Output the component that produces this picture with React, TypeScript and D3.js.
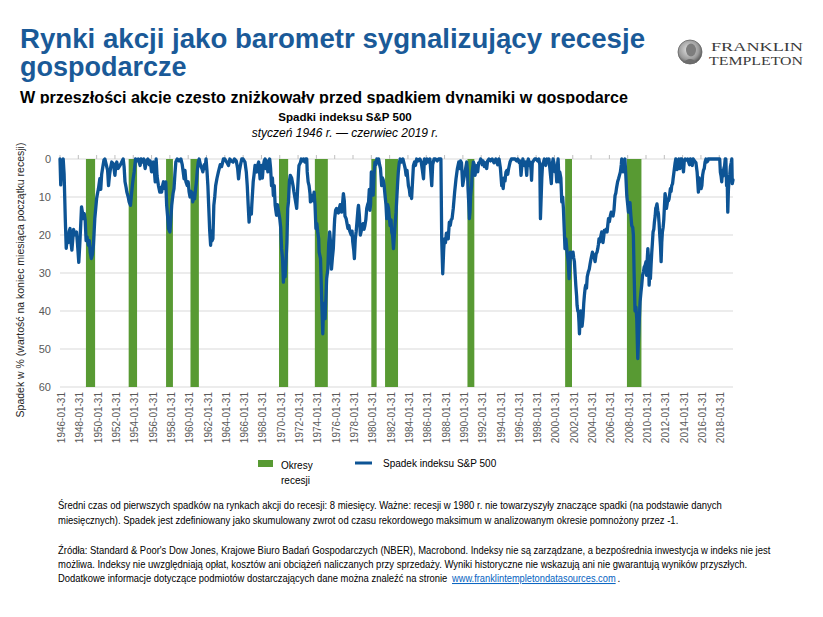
import React, { useLayoutEffect, useRef, useState } from "react"
import * as d3 from "d3"

const W = 823
const H = 617
const FONT = "'Liberation Sans', Arial, Helvetica, sans-serif"
const SERIF = "'Liberation Serif', 'Times New Roman', serif"

const BLUE = "#0d5495"
const GREEN = "#589a33"
const GREY_TEXT = "#595959"

// y axis: drawdown in %, 0 at the top
const yTicks = [0, 10, 20, 30, 40, 50, 60]
// category labels every second January
const tickYears = d3.range(1946, 2019, 2)

// NBER recessions, [first month, last month]
const recessions: [string, string][] = [
	["1948-11", "1949-10"],
	["1953-07", "1954-05"],
	["1957-08", "1958-04"],
	["1960-04", "1961-02"],
	["1969-12", "1970-11"],
	["1973-11", "1975-03"],
	["1980-01", "1980-07"],
	["1981-07", "1982-11"],
	["1990-07", "1991-03"],
	["2001-03", "2001-11"],
	["2007-12", "2009-06"],
]

// S&P 500 drawdown from running peak, [decimal year, % below peak]
const sp500Drawdown: [number, number][] = [
	[1946.0, 0], [1946.08, 6.8], [1946.2, 1], [1946.35, 0], [1946.45, 4], [1946.58, 16], [1946.68, 23.5],
	[1946.8, 20], [1946.9, 22], [1947.0, 19], [1947.1, 18.3], [1947.2, 22], [1947.3, 24], [1947.4, 21],
	[1947.48, 18.5], [1947.6, 20], [1947.7, 19.5], [1947.8, 19.2], [1947.9, 22], [1948.05, 27.2],
	[1948.15, 23], [1948.25, 18], [1948.35, 12.6], [1948.45, 14], [1948.55, 15.7], [1948.65, 14.4],
	[1948.75, 16], [1948.85, 21.5], [1948.95, 20.5], [1949.1, 22.7], [1949.2, 21.5], [1949.3, 24.5],
	[1949.42, 26.2], [1949.55, 25], [1949.65, 22.7], [1949.8, 15.7], [1949.92, 12.5], [1950.0, 10.4],
	[1950.1, 9], [1950.2, 7.8], [1950.35, 5.2], [1950.45, 8], [1950.55, 4], [1950.7, 1.7], [1950.8, 0.3],
	[1950.9, 0], [1951.05, 1.5], [1951.2, 3], [1951.3, 7], [1951.42, 4], [1951.55, 2], [1951.65, 0.8],
	[1951.8, 1.2], [1951.9, 2.5], [1952.0, 4.3], [1952.1, 1.5], [1952.2, 0.8], [1952.35, 2.5],
	[1952.55, 1.7], [1952.7, 1], [1952.9, 0], [1953.0, 2], [1953.1, 6], [1953.22, 7.5], [1953.3, 8.7],
	[1953.45, 10], [1953.55, 11.3], [1953.7, 12.2], [1953.8, 9.5], [1953.9, 7], [1954.0, 5],
	[1954.1, 3.4], [1954.25, 0], [1954.4, 0.5], [1954.55, 0], [1954.75, 1.7], [1954.85, 0],
	[1955.0, 0.8], [1955.15, 0], [1955.3, 2.5], [1955.45, 0.5], [1955.6, 0], [1955.75, 1.5],
	[1955.85, 0.5], [1956.0, 3.4], [1956.1, 1.5], [1956.2, 0.8], [1956.3, 3], [1956.4, 6], [1956.5, 0],
	[1956.6, 4.5], [1956.75, 7], [1956.9, 8.7], [1957.0, 7.5], [1957.1, 8.7], [1957.2, 7], [1957.3, 6],
	[1957.45, 7.8], [1957.55, 6], [1957.65, 12.2], [1957.75, 15], [1957.85, 18.3], [1958.0, 19.2],
	[1958.1, 16], [1958.2, 12.2], [1958.35, 9], [1958.45, 7.8], [1958.55, 4], [1958.65, 0.8],
	[1958.8, 0], [1959.0, 0.5], [1959.2, 0], [1959.35, 1.5], [1959.55, 5.2], [1959.65, 3], [1959.75, 6],
	[1959.9, 7], [1960.0, 6], [1960.1, 8.7], [1960.2, 10], [1960.3, 8.5], [1960.42, 9], [1960.5, 11.3],
	[1960.6, 9], [1960.7, 10.5], [1960.8, 8], [1960.9, 6], [1961.0, 3], [1961.1, 0.8], [1961.2, 0],
	[1961.35, 1.7], [1961.5, 2.5], [1961.6, 3.4], [1961.75, 1.5], [1961.85, 2.5], [1961.95, 0],
	[1962.05, 3], [1962.15, 7], [1962.25, 13], [1962.35, 19], [1962.45, 22.7], [1962.52, 19],
	[1962.6, 21.5], [1962.7, 21], [1962.8, 12.2], [1962.9, 10], [1963.0, 7], [1963.15, 5], [1963.3, 3.4],
	[1963.5, 1.5], [1963.65, 2], [1963.85, 0], [1964.0, 0], [1964.2, 0.8], [1964.4, 1.7], [1964.55, 0],
	[1964.7, 0.5], [1964.9, 0.8], [1965.05, 0], [1965.25, 0.5], [1965.4, 2.5], [1965.5, 5.2],
	[1965.6, 3], [1965.7, 1.7], [1965.85, 0], [1966.0, 0], [1966.2, 0.8], [1966.35, 3.5], [1966.45, 7],
	[1966.55, 12], [1966.65, 16.6], [1966.72, 14], [1966.8, 13], [1966.9, 14.5], [1966.95, 12],
	[1967.1, 6], [1967.2, 4], [1967.3, 1.7], [1967.4, 3], [1967.5, 3.4], [1967.6, 1.5], [1967.7, 0.8],
	[1967.78, 3], [1967.85, 5.2], [1967.95, 4], [1968.0, 1.7], [1968.1, 5], [1968.2, 2], [1968.3, 0.5],
	[1968.4, 0], [1968.5, 2.5], [1968.6, 0.5], [1968.7, 3.4], [1968.8, 1], [1968.9, 0], [1969.0, 2.5],
	[1969.1, 7], [1969.2, 5], [1969.3, 9.6], [1969.4, 7], [1969.5, 12.2], [1969.6, 14], [1969.65, 14.8],
	[1969.75, 12], [1969.85, 13.5], [1970.0, 15.7], [1970.1, 18], [1970.2, 23.6], [1970.3, 26],
	[1970.4, 32.4], [1970.5, 28], [1970.58, 31], [1970.7, 26], [1970.78, 22], [1970.87, 13],
	[1970.95, 11.3], [1971.05, 6], [1971.15, 4.3], [1971.3, 5], [1971.45, 7], [1971.55, 8.7],
	[1971.67, 10.4], [1971.78, 12], [1971.85, 13], [1971.95, 8], [1972.05, 3.5], [1972.1, 1.7],
	[1972.25, 1], [1972.35, 0], [1972.5, 0.5], [1972.6, 0], [1972.75, 0.8], [1972.85, 0], [1972.95, 0],
	[1973.0, 3.4], [1973.1, 6], [1973.2, 7], [1973.3, 9], [1973.35, 11.3], [1973.45, 9.5],
	[1973.55, 10.5], [1973.65, 11], [1973.75, 8.7], [1973.85, 12], [1973.95, 18.3], [1974.05, 17],
	[1974.15, 19.2], [1974.25, 21], [1974.3, 24.5], [1974.45, 26.2], [1974.58, 36.8], [1974.7, 46],
	[1974.78, 39.4], [1974.85, 38], [1974.95, 42], [1975.05, 36], [1975.12, 31.5], [1975.25, 29],
	[1975.35, 22], [1975.45, 19.2], [1975.55, 22], [1975.65, 29], [1975.75, 26], [1975.85, 23.6],
	[1975.95, 18], [1976.0, 15.7], [1976.1, 13.5], [1976.2, 13], [1976.3, 14], [1976.4, 14.2],
	[1976.5, 13], [1976.6, 12], [1976.75, 14], [1976.85, 12], [1976.95, 9.1], [1977.05, 11],
	[1977.12, 15], [1977.25, 15.7], [1977.35, 17], [1977.45, 18.3], [1977.55, 17.5], [1977.65, 19],
	[1977.8, 20], [1977.9, 19], [1977.97, 21.8], [1978.08, 24], [1978.15, 26.2], [1978.25, 21],
	[1978.35, 19], [1978.45, 16], [1978.55, 13], [1978.6, 12.2], [1978.7, 15], [1978.8, 20],
	[1978.9, 19], [1978.95, 18], [1979.1, 17], [1979.2, 18.5], [1979.3, 17.5], [1979.4, 16],
	[1979.5, 13], [1979.6, 12], [1979.7, 11.3], [1979.78, 8], [1979.85, 13.5], [1979.92, 12],
	[1980.0, 3.4], [1980.1, 6], [1980.2, 9.5], [1980.3, 4], [1980.4, 0.8], [1980.5, 1.5], [1980.6, 0],
	[1980.7, 0.5], [1980.8, 0], [1980.9, 1.5], [1981.0, 2.5], [1981.13, 7], [1981.22, 5], [1981.3, 5.5],
	[1981.4, 7], [1981.5, 9.6], [1981.6, 12], [1981.68, 15.7], [1981.78, 12], [1981.88, 13],
	[1981.95, 15], [1982.05, 17.5], [1982.15, 16], [1982.23, 19.2], [1982.32, 20], [1982.42, 23.6],
	[1982.52, 20], [1982.6, 17], [1982.7, 14], [1982.8, 9.6], [1982.88, 6], [1982.95, 3.4],
	[1983.05, 1], [1983.15, 0], [1983.3, 0.8], [1983.45, 0], [1983.6, 1.5], [1983.7, 2.5],
	[1983.8, 4.3], [1983.9, 3], [1984.05, 7], [1984.15, 8], [1984.23, 9.6], [1984.32, 8.5],
	[1984.4, 10.4], [1984.5, 6], [1984.6, 1.7], [1984.72, 0.8], [1984.82, 1.7], [1984.95, 0],
	[1985.1, 0.5], [1985.3, 0], [1985.45, 0.8], [1985.55, 2.5], [1985.7, 5.2], [1985.8, 0],
	[1985.95, 1.2], [1986.1, 0], [1986.25, 0.8], [1986.4, 0], [1986.6, 7], [1986.7, 1.5], [1986.85, 0],
	[1987.0, 0], [1987.2, 0.5], [1987.35, 0], [1987.5, 0], [1987.6, 0], [1987.69, 21.4], [1987.8, 30.2],
	[1987.9, 24], [1987.98, 21], [1988.1, 22], [1988.2, 19.5], [1988.3, 20.5], [1988.4, 21],
	[1988.52, 16.6], [1988.62, 17.5], [1988.72, 16], [1988.82, 15.7], [1988.95, 13], [1989.1, 8.7],
	[1989.25, 5.2], [1989.4, 2.5], [1989.55, 0.8], [1989.65, 2.5], [1989.75, 0.5], [1989.85, 1],
	[1989.98, 7], [1990.1, 5.2], [1990.2, 4], [1990.3, 2.5], [1990.42, 0.8], [1990.5, 3], [1990.56, 7.8],
	[1990.65, 12], [1990.71, 15.7], [1990.78, 14], [1990.85, 9.6], [1990.95, 7], [1991.02, 3.4],
	[1991.15, 0.8], [1991.25, 1.5], [1991.33, 4.3], [1991.45, 2], [1991.55, 1.7], [1991.62, 3.4],
	[1991.72, 1], [1991.85, 0.8], [1991.95, 0], [1992.1, 1.5], [1992.2, 0.5], [1992.35, 2],
	[1992.45, 1], [1992.6, 2.5], [1992.7, 0.5], [1992.85, 0], [1993.0, 0.5], [1993.2, 0], [1993.4, 1],
	[1993.6, 0], [1993.8, 1.5], [1993.95, 0], [1994.1, 2.5], [1994.24, 7], [1994.32, 6], [1994.4, 7.8],
	[1994.5, 5], [1994.6, 5.8], [1994.7, 3.5], [1994.8, 3], [1994.9, 4], [1995.0, 2.5], [1995.15, 0.8],
	[1995.3, 0], [1995.5, 0], [1995.7, 0], [1995.85, 0.5], [1996.0, 0], [1996.15, 1], [1996.25, 0.5],
	[1996.35, 4.3], [1996.45, 1.5], [1996.55, 0], [1996.7, 1.7], [1996.85, 0.8], [1996.97, 4.3],
	[1997.05, 0.8], [1997.15, 0], [1997.25, 1.7], [1997.35, 0.8], [1997.45, 3], [1997.5, 5.6],
	[1997.58, 1], [1997.7, 0.5], [1997.85, 0], [1998.0, 0], [1998.15, 0.5], [1998.3, 0], [1998.4, 1.5],
	[1998.47, 15.7], [1998.55, 10], [1998.62, 5], [1998.7, 1.5], [1998.8, 0.8], [1998.9, 0],
	[1999.05, 1.7], [1999.2, 0], [1999.3, 0.8], [1999.4, 0], [1999.5, 2.5], [1999.6, 5], [1999.66, 6.5],
	[1999.75, 1.5], [1999.85, 0], [1999.95, 1], [2000.05, 3.4], [2000.15, 2], [2000.25, 6],
	[2000.32, 1.7], [2000.4, 0], [2000.5, 6], [2000.58, 3.4], [2000.7, 5], [2000.8, 11.3], [2000.9, 10],
	[2000.98, 13], [2001.08, 19.2], [2001.15, 23.6], [2001.25, 21], [2001.38, 24.5], [2001.5, 27],
	[2001.6, 31.5], [2001.68, 28], [2001.75, 24.5], [2001.82, 26], [2001.9, 25.4], [2002.03, 24.5],
	[2002.1, 26], [2002.18, 27], [2002.25, 30], [2002.33, 33.2], [2002.42, 36], [2002.47, 38.5],
	[2002.55, 40], [2002.62, 40.3], [2002.68, 43], [2002.73, 46], [2002.8, 42], [2002.87, 40],
	[2002.95, 43.8], [2003.02, 44], [2003.12, 41.5], [2003.2, 38], [2003.27, 35.9], [2003.35, 34],
	[2003.42, 33.2], [2003.5, 34], [2003.58, 31], [2003.7, 29.7], [2003.8, 29], [2003.9, 27.5],
	[2004.0, 26.2], [2004.15, 24.5], [2004.25, 25.4], [2004.35, 26], [2004.44, 27], [2004.55, 25],
	[2004.65, 24.5], [2004.73, 23.6], [2004.8, 22.5], [2004.87, 21], [2004.95, 21.8], [2005.05, 20.5],
	[2005.16, 19.2], [2005.3, 22], [2005.38, 20.5], [2005.45, 18.8], [2005.55, 19.2], [2005.65, 18.5],
	[2005.75, 19.2], [2005.82, 17.5], [2005.9, 15.7], [2006.0, 16.5], [2006.1, 15], [2006.2, 14],
	[2006.3, 14.8], [2006.4, 15], [2006.5, 13.5], [2006.62, 9.6], [2006.7, 9], [2006.77, 7.8],
	[2006.9, 6], [2007.0, 5.2], [2007.1, 4.3], [2007.2, 3.4], [2007.3, 1.5], [2007.35, 0], [2007.45, 2],
	[2007.5, 3.4], [2007.6, 0.8], [2007.7, 0], [2007.8, 4.5], [2007.9, 9.6], [2008.0, 12], [2008.08, 14],
	[2008.15, 13], [2008.25, 11.5], [2008.35, 15], [2008.44, 17.5], [2008.55, 18], [2008.62, 20],
	[2008.7, 30], [2008.8, 40], [2008.9, 39], [2008.99, 42], [2009.1, 52.5], [2009.17, 48],
	[2009.24, 43.8], [2009.35, 37.6], [2009.45, 35], [2009.53, 33.2], [2009.63, 30.5], [2009.72, 29.7],
	[2009.8, 28.5], [2009.9, 28], [2010.0, 27], [2010.05, 30.6], [2010.12, 27], [2010.2, 23.6],
	[2010.27, 26], [2010.34, 33.2], [2010.42, 30], [2010.48, 31.5], [2010.55, 28], [2010.63, 24.5],
	[2010.7, 22], [2010.77, 19.2], [2010.85, 18.5], [2010.92, 16.5], [2011.0, 15], [2011.06, 13],
	[2011.13, 12.5], [2011.2, 11.8], [2011.28, 13.5], [2011.36, 14.5], [2011.43, 17], [2011.5, 20],
	[2011.58, 23], [2011.65, 27], [2011.72, 22], [2011.79, 19.2], [2011.87, 18], [2011.94, 16],
	[2012.02, 12], [2012.08, 9.1], [2012.15, 10], [2012.23, 13], [2012.3, 12], [2012.38, 10.5],
	[2012.45, 11], [2012.52, 10.5], [2012.6, 9], [2012.66, 7.8], [2012.74, 8.5], [2012.81, 7],
	[2012.9, 6.5], [2012.96, 5.2], [2013.05, 3.5], [2013.1, 2.5], [2013.18, 1], [2013.25, 0],
	[2013.35, 0.5], [2013.4, 2.8], [2013.5, 0.8], [2013.6, 0], [2013.7, 2.5], [2013.78, 0], [2013.9, 0],
	[2014.0, 1], [2014.09, 3.4], [2014.18, 0.5], [2014.28, 0], [2014.4, 0.3], [2014.55, 0],
	[2014.65, 0.8], [2014.75, 1.5], [2014.85, 0], [2014.95, 0.5], [2015.05, 1.7], [2015.15, 0],
	[2015.3, 0.5], [2015.45, 1], [2015.58, 3.4], [2015.65, 6], [2015.72, 8.7], [2015.8, 5],
	[2015.88, 6], [2015.95, 5.5], [2016.02, 7.8], [2016.1, 7], [2016.18, 4.3], [2016.27, 3],
	[2016.36, 2.5], [2016.45, 0.8], [2016.55, 0], [2016.65, 0.8], [2016.75, 0.5], [2016.8, 0],
	[2017.0, 0], [2017.3, 0], [2017.6, 0], [2017.9, 0], [2018.05, 0], [2018.12, 3.5], [2018.2, 4.5],
	[2018.27, 6], [2018.35, 3], [2018.42, 4.5], [2018.5, 2.5], [2018.58, 1.8], [2018.65, 0],
	[2018.72, 0], [2018.8, 7], [2018.87, 6], [2018.93, 14], [2019.0, 8], [2019.07, 5.5], [2019.15, 4],
	[2019.22, 2], [2019.3, 1], [2019.37, 0], [2019.42, 6.5], [2019.5, 5.5],
]

const notes = [
	"Średni czas od pierwszych spadków na rynkach akcji do recesji: 8 miesięcy. Ważne: recesji w 1980 r. nie towarzyszyły znaczące spadki (na podstawie danych",
	"miesięcznych). Spadek jest zdefiniowany jako skumulowany zwrot od czasu rekordowego maksimum w analizowanym okresie pomnożony przez -1.",
]
const sources = [
	"Źródła: Standard & Poor's Dow Jones, Krajowe Biuro Badań Gospodarczych (NBER), Macrobond. Indeksy nie są zarządzane, a bezpośrednia inwestycja w indeks nie jest",
	"możliwa. Indeksy nie uwzględniają opłat, kosztów ani obciążeń naliczanych przy sprzedaży. Wyniki historyczne nie wskazują ani nie gwarantują wyników przyszłych.",
	"Dodatkowe informacje dotyczące podmiotów dostarczających dane można znaleźć na stronie",
]
const sourceLink = "www.franklintempletondatasources.com"

const monthToYear = (s: string, end: boolean) => {
	const [y, m] = s.split("-").map(Number)
	return y + (end ? m : m - 1) / 12
}

// footnote line squeezed horizontally to a given width
const FitText: React.FC<{
	x: number
	y: number
	width: number
	fill?: string
	underline?: boolean
	children: React.ReactNode
}> = ({ x, y, width, fill = "#000", underline, children }) => {
	const ref = useRef<SVGTextElement>(null)
	const [k, setK] = useState(1)
	useLayoutEffect(() => {
		if (ref.current) {
			const w = ref.current.getComputedTextLength()
			if (w > 0) setK(width / w)
		}
	}, [width])
	return (
		<text
			ref={ref}
			transform={`translate(${x},${y}) scale(${k},1)`}
			fontSize={10}
			fill={fill}
			textDecoration={underline ? "underline" : undefined}>
			{children}
		</text>
	)
}

const App: React.FC = () => {
	const margin = { top: 159, left: 60, right: 90, bottom: 230 }
	const x = d3.scaleLinear().domain([1946, 2019.5]).range([margin.left, W - margin.right])
	const y = d3.scaleLinear().domain([0, 60]).range([margin.top, H - margin.bottom])

	const line = d3
		.line<[number, number]>()
		.x((d) => x(d[0]))
		.y((d) => y(d[1]))

	return (
		<svg width={W} height={H} style={{ position: "absolute", left: 0, top: 0, background: "#fff" }} fontFamily={FONT}>
			<defs>
				<clipPath id="subClip">
					<rect x={0} y={80} width={W} height={23.5} />
				</clipPath>
				<radialGradient id="medal" cx="45%" cy="40%" r="60%">
					<stop offset="0%" stopColor="#e6e6e6" />
					<stop offset="70%" stopColor="#9a9a9a" />
					<stop offset="100%" stopColor="#555" />
				</radialGradient>
			</defs>

			{/* headline */}
			<text x={20} y={48} fontSize={27} fontWeight="bold" fill="#1a5a98" textLength={625} lengthAdjust="spacingAndGlyphs">
				Rynki akcji jako barometr sygnalizujący recesje
			</text>
			<text x={20} y={75.5} fontSize={27} fontWeight="bold" fill="#1a5a98">
				gospodarcze
			</text>
			<text x={20} y={102.5} fontSize={16} fontWeight="bold" fill="#000" clipPath="url(#subClip)" textLength={608} lengthAdjust="spacingAndGlyphs">
				W przeszłości akcje często zniżkowały przed spadkiem dynamiki w gospodarce
			</text>

			{/* logo */}
			<g>
				<circle cx={690} cy={52} r={12} fill="url(#medal)" stroke="#666" strokeWidth={0.8} />
				<ellipse cx={691} cy={50} rx={5} ry={6.5} fill="#7d7d7d" />
				<path d="M683,63 Q690,55 697,63" fill="#6d6d6d" />
				<text x={711} y={51} fontFamily={SERIF} fontSize={12} fill="#3a3a3a" textLength={92} lengthAdjust="spacingAndGlyphs">
					FRANKLIN
				</text>
				<text x={709} y={65} fontFamily={SERIF} fontSize={12} fill="#3a3a3a" textLength={94} lengthAdjust="spacingAndGlyphs">
					TEMPLETON
				</text>
			</g>

			{/* chart title */}
			<text x={345} y={121} fontSize={11.5} fontWeight="bold" textAnchor="middle" fill="#000">
				Spadki indeksu S&amp;P 500
			</text>
			<text x={345} y={137} fontSize={12} fontStyle="italic" textAnchor="middle" fill="#000">
				styczeń 1946 r. — czerwiec 2019 r.
			</text>

			{/* grid */}
			{yTicks.map((t) => (
				<g key={t}>
					<line x1={x(1946)} x2={x(2019.5)} y1={y(t)} y2={y(t)} stroke="#d9d9d9" strokeWidth={1} />
					<text x={51} y={y(t) + 4} fontSize={11} textAnchor="end" fill={GREY_TEXT}>
						{t}
					</text>
				</g>
			))}
			{tickYears.map((yr) => (
				<line key={yr} x1={x(yr)} x2={x(yr)} y1={y(0) - 4} y2={y(0)} stroke="#bfbfbf" strokeWidth={1} />
			))}

			{/* recession bands */}
			{recessions.map(([s, e]) => (
				<rect
					key={s}
					x={x(monthToYear(s, false))}
					width={x(monthToYear(e, true)) - x(monthToYear(s, false))}
					y={y(0)}
					height={y(60) - y(0)}
					fill={GREEN}
				/>
			))}

			{/* drawdown */}
			<path d={line(sp500Drawdown) || ""} fill="none" stroke={BLUE} strokeWidth={3.3} strokeLinejoin="round" strokeLinecap="round" />

			{/* x labels */}
			{tickYears.map((yr) => (
				<text
					key={yr}
					transform={`translate(${x(yr) + 5},${y(60) + 5}) rotate(-90)`}
					fontSize={10}
					textAnchor="end"
					fill={GREY_TEXT}>
					{`${yr}-01-31`}
				</text>
			))}

			{/* y title */}
			<text transform="translate(24,280) rotate(-90)" fontSize={10.5} textAnchor="middle" fill="#262626">
				Spadek w % (wartość na koniec miesiąca początku recesji)
			</text>

			{/* legend */}
			<rect x={258} y={460} width={15} height={7} fill={GREEN} />
			<text x={281} y={469} fontSize={10} fill="#000">Okresy</text>
			<text x={281} y={484} fontSize={10} fill="#000">recesji</text>
			<line x1={355} x2={372} y1={463} y2={463} stroke={BLUE} strokeWidth={3} />
			<text x={383} y={467} fontSize={10} fill="#000">Spadek indeksu S&amp;P 500</text>

			{/* footnotes */}
			<FitText x={58} y={509} width={664}>{notes[0]}</FitText>
			<FitText x={58} y={524} width={621}>{notes[1]}</FitText>
			<FitText x={58} y={554} width={713}>{sources[0]}</FitText>
			<FitText x={58} y={568} width={690}>{sources[1]}</FitText>
			<FitText x={58} y={582} width={390}>{sources[2]}</FitText>
			<FitText x={452} y={582} width={164} fill="#0563c1" underline>
				{sourceLink}
			</FitText>
			<text x={617.5} y={582} fontSize={10} fill="#000">.</text>
		</svg>
	)
}

export default App
